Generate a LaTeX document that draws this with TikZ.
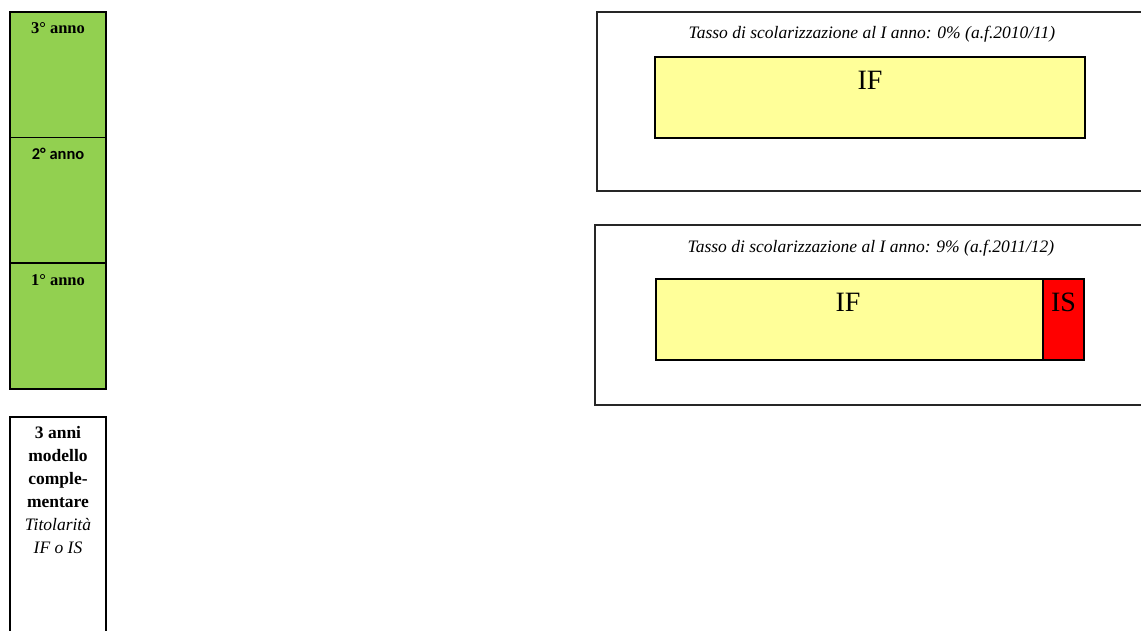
\documentclass[tikz,border=0pt]{standalone}
\usepackage{fontspec}
\setmainfont{Liberation Serif}
\newfontfamily\calibrifont{Carlito}
\usetikzlibrary{positioning}
\definecolor{annogreen}{HTML}{92D050}
\definecolor{ifyellow}{HTML}{FFFF99}
\definecolor{isred}{HTML}{FF0000}

\begin{document}
\begin{tikzpicture}[x=1pt,y=-1pt]
              \tikzstyle{every node}+=[inner sep=0pt, outer sep=0pt]
              \tikzstyle{annobox}=[draw=black, line width=1.7pt, fill=annogreen, minimum width=96pt, minimum height=125.7pt]
              \tikzstyle{annolab}=[anchor=base, font=\fontsize{16.5}{20}\selectfont\bfseries]
              \tikzstyle{outerbox}=[draw=black!85, line width=1.1pt, minimum height=179pt]
              \tikzstyle{titlelab}=[anchor=base, font=\fontsize{17.5}{21}\selectfont\itshape]
              \tikzstyle{ifbar}=[draw=black, line width=1.4pt, fill=ifyellow, minimum height=81pt]
              \tikzstyle{isbar}=[draw=black, line width=1.4pt, fill=isred, minimum height=81pt, minimum width=41pt]
              \tikzstyle{barlab}=[anchor=base, font=\fontsize{28}{30}\selectfont]
              \useasboundingbox (0,0) rectangle (1141,630);
              % colonna degli anni
              \node [annobox] (anno3) at (58,74.6) {};
              \node [annobox, below=0pt of anno3] (anno2) {};
              \node [annobox, below=0pt of anno2] (anno1) {};
              \draw [line width=1.7pt] (anno3.south west) -- (anno3.south east);
              \draw [line width=1.7pt] (anno2.south west) -- (anno2.south east);
              \node [annolab] (lab3) at (58,33) {3° anno};
              \node [annolab, font=\fontsize{16.5}{20}\selectfont\calibrifont\bfseries] (lab2) at (58,159) {2° anno};
              \node [annolab] (lab1) at (58,285) {1° anno};
              % riquadro descrittivo
              \node [draw=black, line width=1.1pt, minimum width=96pt, minimum height=223pt] (desc) at (58,528.5) {};
              \node [anchor=north, align=center, font=\fontsize{17.5}{23}\selectfont] (desctxt) at (58,426)
                {\textbf{3 anni}\\ \textbf{modello}\\ \textbf{comple-}\\ \textbf{mentare}\\ \textit{Titolarità}\\ \textit{IF o IS}};
              % a.f. 2010/11
              \node [outerbox, minimum width=548pt] (box1) at (871,101.5) {};
              \node [titlelab] (tit1) at (872,38) {Tasso di scolarizzazione al I anno: 0\% (a.f.2010/11)};
              \node [ifbar, minimum width=430pt] (if1) at (870,97.5) {};
              \node [barlab] (iflab1) at (870,89) {IF};
              % a.f. 2011/12
              \node [outerbox, minimum width=550pt, minimum height=180pt] (box2) at (870,315) {};
              \node [titlelab] (tit2) at (871,252) {Tasso di scolarizzazione al I anno: 9\% (a.f.2011/12)};
              \node [ifbar, minimum width=387pt] (if2) at (849.5,319.5) {};
              \node [isbar, right=0pt of if2] (is2) {};
              \node [barlab] (iflab2) at (848,311) {IF};
              \node [barlab] (islab2) at (is2.center |- 0,311) {IS};
            \end{tikzpicture}
\end{document}
